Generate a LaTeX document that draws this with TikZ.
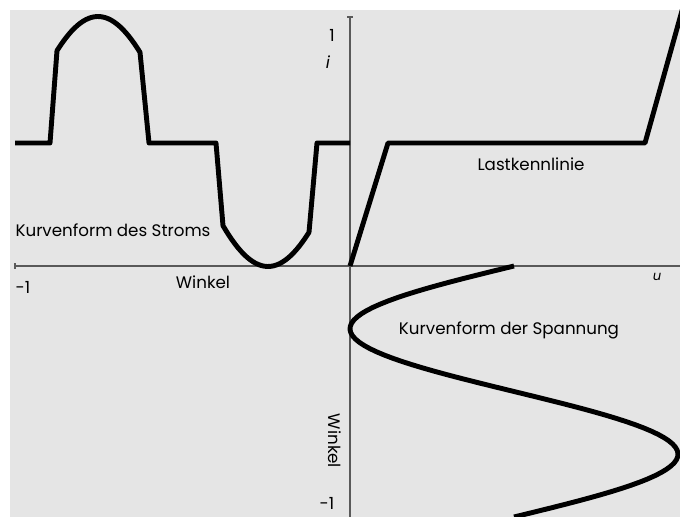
\documentclass[tikz,border=0pt]{standalone}
\usepackage{fontspec}
\setmainfont{Poppins}
\begin{document}
\begin{tikzpicture}[x=0.02cm,y=-0.02cm,
    curve/.style = {line width=2.8pt, line join=round},
    axis/.style = {draw=black!65, line width=0.7pt},
    lbl/.style = {font=\fontsize{9.5}{11}\selectfont, inner sep=0pt}]
      \useasboundingbox (0,0) rectangle (680,517);
      \fill[black!10] (10,10) rectangle (680,517);

      \draw[axis] (15,266) -- (680,266)
      (350,17) -- (350,517)
      (15,263) -- (15,269)
      (347,17) -- (353,17);

      \begin{scope}
        \clip (10,10) rectangle (680,517);
        % Strom
        \draw[curve] (15,143) -- (50,143)
        -- plot[domain=57:140, samples=30] ({\x},{141.5-125*sin((\x-13)/340*360)})
        -- (149,143) -- (216,143)
        -- plot[domain=223:309, samples=30] ({\x},{141.5-125*sin((\x-13)/340*360)})
        -- (317,143) -- (350,143);
        % Last
        \draw[curve] (350,266) -- (388,143) -- (645,143) -- (685,0);
        % Spannung
        \draw[curve] plot[domain=266:517, samples=80] ({514-164*sin((\x-266)/251*360)},{\x});
      \end{scope}

      \node[lbl] (one) at (332,35) {1};
      \node[lbl] (i) at (328,62) {\itshape i};
      \node[lbl] (strom) at (113,230) {Kurvenform des Stroms};
      \node[lbl] (mone) at (23,287) {-1};
      \node[lbl] (winkel) at (203,282) {Winkel};
      \node[lbl, rotate=-90] (winkelv) at (335,441) {Winkel};
      \node[lbl] (monev) at (327,503) {-1};
      \node[lbl] (last) at (531,164) {Lastkennlinie};
      \node[lbl, font=\fontsize{7.5}{9}\selectfont\itshape] (u) at (657,277) {u};
      \node[lbl] (spannung) at (509,330) {Kurvenform der Spannung};

    \end{tikzpicture}
\end{document}
